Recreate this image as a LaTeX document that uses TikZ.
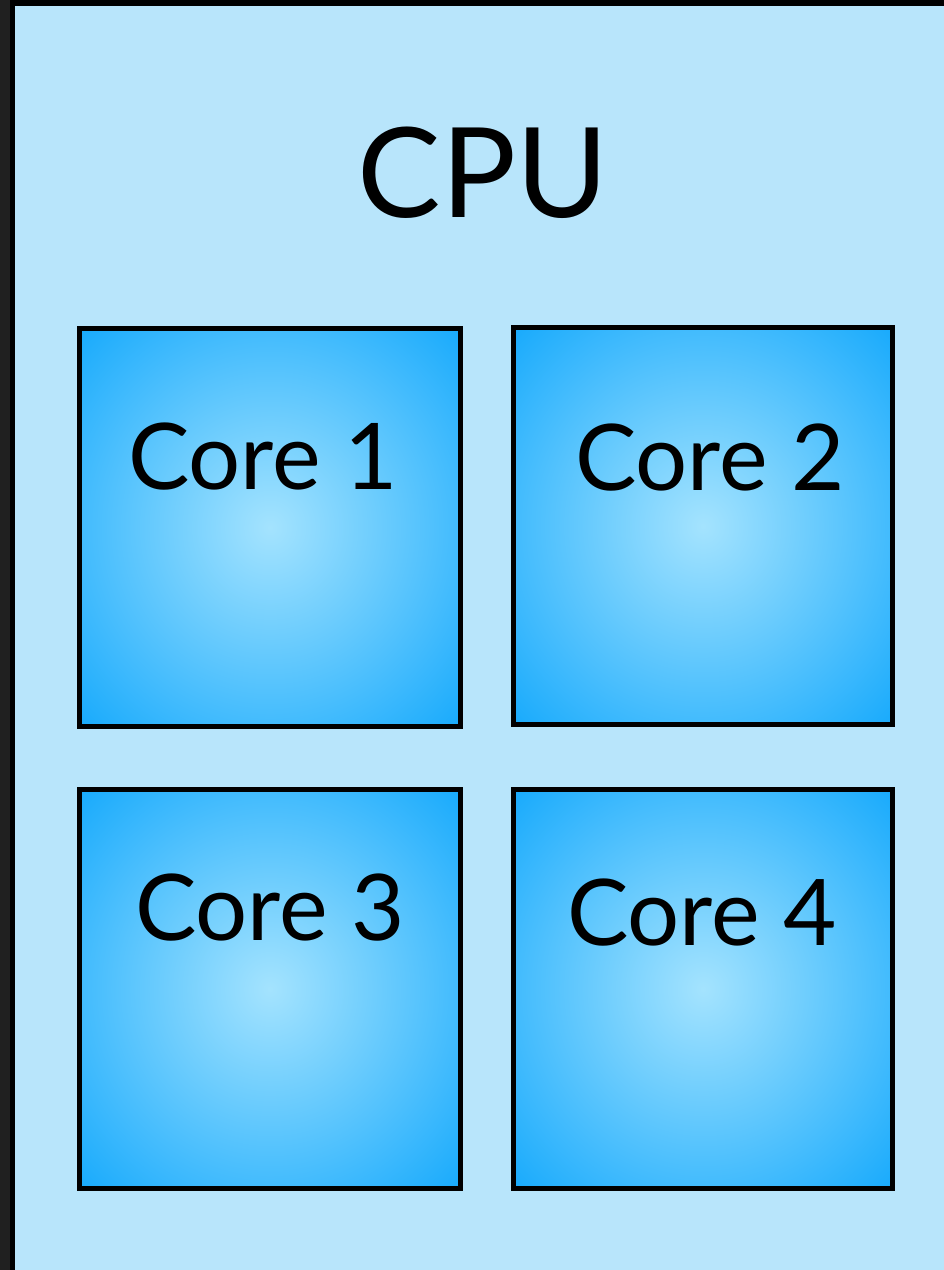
\documentclass[tikz,border=0pt]{standalone}
\usepackage{fontspec}
\setmainfont{Lato}
\usetikzlibrary{calc}
\definecolor{bgblue}{HTML}{B8E5FB}
\definecolor{coreinner}{HTML}{A4E3FE}
\definecolor{coreouter}{HTML}{0EA6FC}
\definecolor{leftbar}{HTML}{202020}
\pgfdeclareradialshading{coreshade}{\pgfpoint{0bp}{0bp}}{color(0bp)=(coreinner); color(38bp)=(coreouter); color(71bp)=(coreouter)}
\tikzset{
  corebox/.style={draw=black, line width=5pt, shading=coreshade, inner sep=0pt, outer sep=0pt},
  coretext/.style={anchor=base, inner sep=0pt, font=\fontsize{92}{92}\selectfont},
  cputext/.style={anchor=base, inner sep=0pt, font=\fontsize{125}{125}\selectfont}
}
\begin{document}
\begin{tikzpicture}[x=1pt, y=-1pt]
\useasboundingbox (0,0) rectangle (944,1270);
\fill[bgblue] (0,0) rectangle (944,1270);
\fill[leftbar] (0,0) rectangle (10,1270);
\fill[black] (10,0) rectangle (15,1270);
\fill[black] (10,0) rectangle (944,6);
\node[cputext] (cpu) at (483,217) {CPU};
\node[corebox, minimum width=381pt, minimum height=398pt] (c1) at (270,527.5) {};
\node[corebox, minimum width=379pt, minimum height=397pt] (c2) at (703,526) {};
\node[corebox, minimum width=381pt, minimum height=399pt] (c3) at (270,989) {};
\node[corebox, minimum width=379pt, minimum height=399pt] (c4) at (703,989) {};
\node[coretext] (t1) at (263,489) {Core 1};
\node[coretext] (t2) at (710,490) {Core 2};
\node[coretext] (t3) at (270,940) {Core 3};
\node[coretext] (t4) at (702,945) {Core 4};
\end{tikzpicture}
\end{document}
